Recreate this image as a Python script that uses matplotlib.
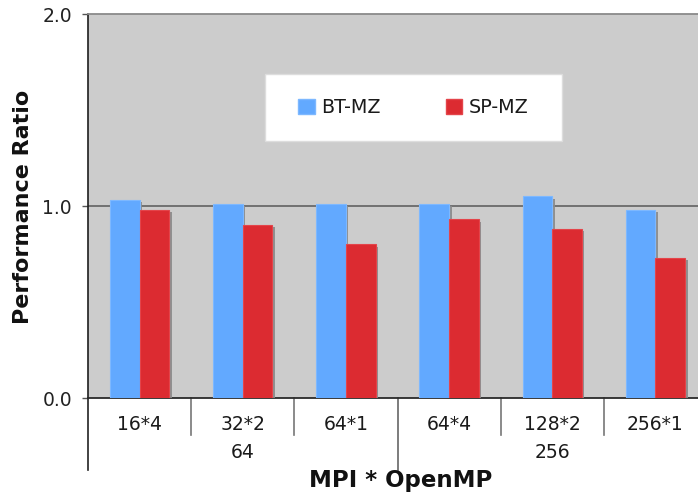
import matplotlib
matplotlib.use("Agg")
import matplotlib.pyplot as plt
import matplotlib.patheffects as pe
from matplotlib.patches import Patch, Rectangle
import numpy as np

# Data
configs = ["16*4", "32*2", "64*1", "64*4", "128*2", "256*1"]
groups = ["64", "256"]
group_sizes = [3, 3]
bt_mz = [1.03, 1.01, 1.01, 1.01, 1.05, 0.98]
sp_mz = [0.98, 0.90, 0.80, 0.93, 0.88, 0.73]
yticks = [0.0, 1.0, 2.0]

W, H, DPI = 698, 497, 100
fig = plt.figure(figsize=(W / DPI, H / DPI), dpi=DPI)
fig.patch.set_facecolor("white")

# Axes in pixel terms (plot region runs slightly past the right edge)
left_px, right_px, top_px, bottom_px = 88, 707, 14, 398
ax = fig.add_axes([left_px / W, (H - bottom_px) / H,
                   (right_px - left_px) / W, (bottom_px - top_px) / H])
ax.set_facecolor("#CCCCCC")

x = np.arange(len(configs))
bw = 0.288
shadow = [pe.SimplePatchShadow(offset=(1.8, -1.6), shadow_rgbFace="#8a8a8a", alpha=0.9),
          pe.Normal()]

ax.axhline(1.0, color="#6a6a6a", lw=1.3, zorder=1)
ax.bar(x - bw / 2, bt_mz, width=bw, color="#62A9FF", edgecolor="#7DB8FF",
       linewidth=0.8, zorder=3, path_effects=shadow)
ax.bar(x + bw / 2, sp_mz, width=bw, color="#DC2B31", edgecolor="#E4444A",
       linewidth=0.8, zorder=3, path_effects=shadow)

ax.set_xlim(-0.5, len(configs) - 0.5)
ax.set_ylim(0, 2.0)

# Spines
ax.spines["right"].set_visible(False)
ax.spines["top"].set_color("#8a8a8a")
ax.spines["top"].set_linewidth(1.3)
ax.spines["left"].set_color("#1e1e1e")
ax.spines["left"].set_linewidth(1.2)
ax.spines["bottom"].set_color("#2a2a2a")
ax.spines["bottom"].set_linewidth(1.3)

# Y axis
ax.set_yticks(yticks)
ax.set_yticklabels([f"{v:.1f}" for v in yticks], fontsize=13.5, color="#222222")
ax.tick_params(axis="y", direction="out", length=4.5, width=1.0,
               color="#555555", pad=7)
ax.set_xticks([])

# Two-level category axis
trans = ax.get_xaxis_transform()
ax_h = bottom_px - top_px
def yfrac(px):
    return (bottom_px - px) / ax_h

for i, lab in enumerate(configs):
    ax.text(i, yfrac(425), lab, transform=trans, ha="center", va="center",
            fontsize=13.5, color="#1a1a1a", clip_on=False)

boundaries = np.cumsum([0] + group_sizes) - 0.5
inner = [b + 0.5 for b in range(len(configs) - 1) if (b + 0.5) not in boundaries]
for b in inner:
    ax.plot([b, b], [0, yfrac(435)], transform=trans, color="#777777",
            lw=1.2, clip_on=False)
for b in boundaries:
    ax.plot([b, b], [0, yfrac(470)], transform=trans,
            color="#222222" if b == boundaries[0] else "#666666",
            lw=1.2, clip_on=False)

start = 0
for g, n in zip(groups, group_sizes):
    ax.text(start + (n - 1) / 2, yfrac(453), g, transform=trans, ha="center",
            va="center", fontsize=13.5, color="#1a1a1a", clip_on=False)
    start += n

# Axis titles
fig.text(401 / W, (H - 481) / H, "MPI * OpenMP", ha="center", va="center",
         fontsize=16.5, fontweight="bold", color="#111111")
fig.text(23.5 / W, (H - 207) / H, "Performance Ratio", ha="center",
         va="center", rotation=90, fontsize=16, fontweight="bold",
         color="#111111")

# Legend box
lx0, lx1, ly0, ly1 = 265, 562, 74, 141
ax.add_patch(Rectangle(((lx0 - left_px) / (right_px - left_px), yfrac(ly1)),
                       (lx1 - lx0) / (right_px - left_px),
                       (ly1 - ly0) / ax_h, transform=ax.transAxes,
                       facecolor="white", edgecolor="#dddddd", lw=1.0,
                       zorder=5))
handles = [Patch(facecolor="#62A9FF", edgecolor="#7DB8FF", label="BT-MZ"),
           Patch(facecolor="#DC2B31", edgecolor="#E4444A", label="SP-MZ")]
leg = ax.legend(handles=handles, ncol=2, frameon=False, fontsize=13.8,
                loc="center",
                bbox_to_anchor=(((lx0 + lx1) / 2 - left_px) / (right_px - left_px),
                                yfrac((ly0 + ly1) / 2)),
                handlelength=0.85, handleheight=0.85, handletextpad=0.35,
                columnspacing=3.4, borderpad=0.2)
leg.set_zorder(6)
for t in leg.get_texts():
    t.set_color("#1a1a1a")

fig.savefig("out.png", dpi=DPI)
